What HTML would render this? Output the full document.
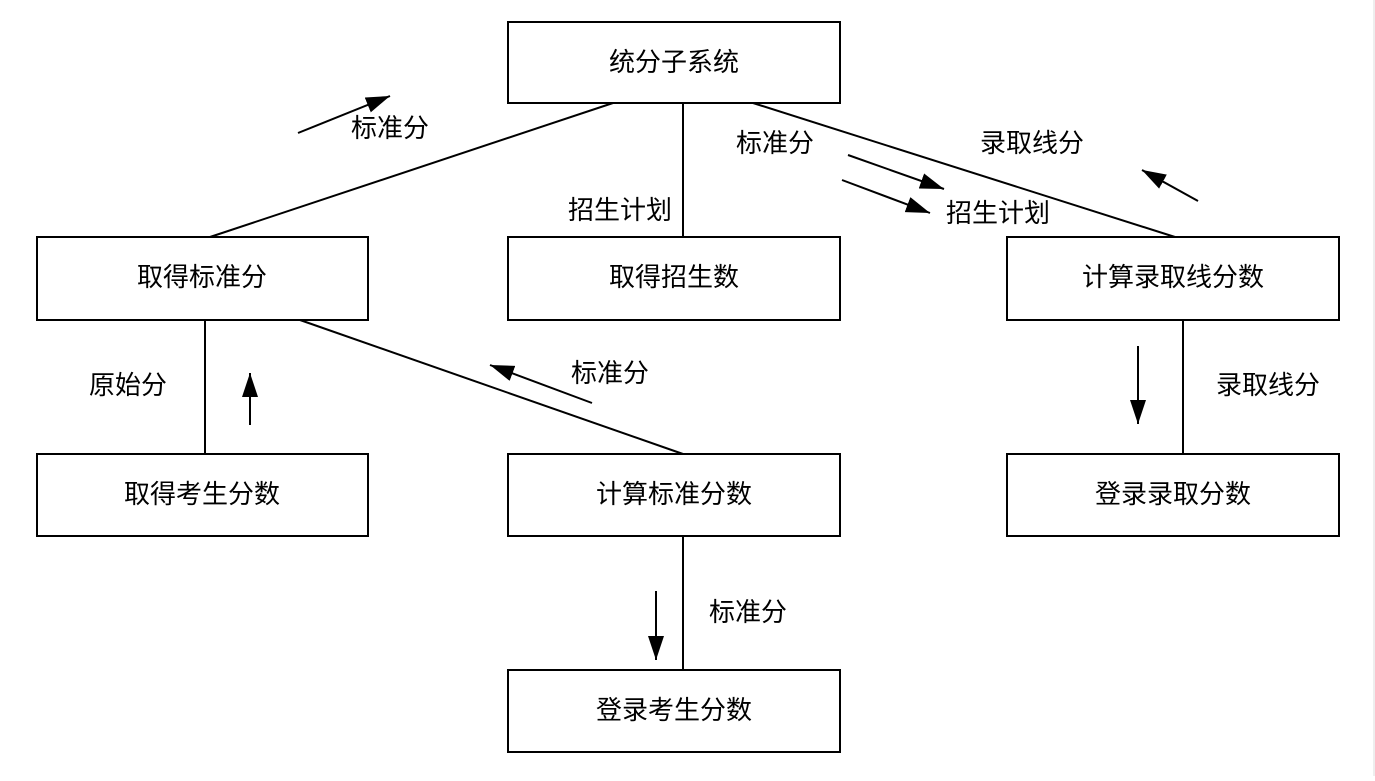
<!DOCTYPE html>
<html><head><meta charset="utf-8"><style>
html,body{margin:0;padding:0;background:#fff;}
svg text{font-family:"Liberation Sans","Noto Sans CJK SC",sans-serif;font-size:26px;fill:#000;text-anchor:middle;dominant-baseline:central;}
</style></head><body>
<svg width="1375" height="776" viewBox="0 0 1375 776" xmlns="http://www.w3.org/2000/svg">
<defs><marker id="a" markerWidth="10" markerHeight="8" refX="9" refY="4" orient="auto" markerUnits="userSpaceOnUse" viewBox="0 0 10 8"><path d="M0,0 L10,4 L0,8z" fill="#000"/></marker>
<marker id="b" viewBox="0 0 24 16" refX="24" refY="8" markerWidth="24" markerHeight="16" orient="auto" markerUnits="userSpaceOnUse"><path d="M0,0 L24,8 L0,16z" fill="#000"/></marker></defs>
<line x1="1374" y1="0" x2="1374" y2="776" stroke="#ddd" stroke-width="1"/>
<g fill="#fff" stroke="#000" stroke-width="2">
<rect x="508" y="22" width="332" height="81"/>
<rect x="37" y="237" width="331" height="83"/>
<rect x="508" y="237" width="332" height="83"/>
<rect x="1007" y="237" width="332" height="83"/>
<rect x="37" y="454" width="331" height="82"/>
<rect x="508" y="454" width="332" height="82"/>
<rect x="1007" y="454" width="332" height="82"/>
<rect x="508" y="670" width="332" height="82"/>
</g>
<g stroke="#000" stroke-width="2">
<line x1="613" y1="103" x2="210" y2="237"/>
<line x1="683" y1="103" x2="683" y2="237"/>
<line x1="753" y1="103" x2="1175" y2="237"/>
<line x1="300" y1="320" x2="683" y2="454"/>
<line x1="205" y1="320" x2="205" y2="454"/>
<line x1="683" y1="536" x2="683" y2="670"/>
<line x1="1183" y1="320" x2="1183" y2="454"/>
<line x1="298" y1="133" x2="390" y2="96" marker-end="url(#b)"/>
<line x1="250" y1="425" x2="250" y2="373" marker-end="url(#b)"/>
<line x1="592" y1="403" x2="490" y2="365" marker-end="url(#b)"/>
<line x1="656" y1="591" x2="656" y2="660" marker-end="url(#b)"/>
<line x1="1138" y1="346" x2="1138" y2="424" marker-end="url(#b)"/>
<line x1="848" y1="155" x2="944" y2="189" marker-end="url(#b)"/>
<line x1="842" y1="180" x2="930" y2="213" marker-end="url(#b)"/>
<line x1="1198" y1="201" x2="1142" y2="170" marker-end="url(#b)"/>
</g>
<text x="674" y="62">统分子系统</text>
<text x="202" y="277">取得标准分</text>
<text x="674" y="277">取得招生数</text>
<text x="1173" y="277">计算录取线分数</text>
<text x="202" y="494">取得考生分数</text>
<text x="674" y="494">计算标准分数</text>
<text x="1173" y="494">登录录取分数</text>
<text x="674" y="710">登录考生分数</text>
<text x="390" y="128">标准分</text>
<text x="775" y="143">标准分</text>
<text x="620" y="210">招生计划</text>
<text x="1032" y="143">录取线分</text>
<text x="998" y="213">招生计划</text>
<text x="128" y="385">原始分</text>
<text x="610" y="373">标准分</text>
<text x="748" y="612">标准分</text>
<text x="1268" y="385">录取线分</text>
</g>
</svg>
</body></html>
